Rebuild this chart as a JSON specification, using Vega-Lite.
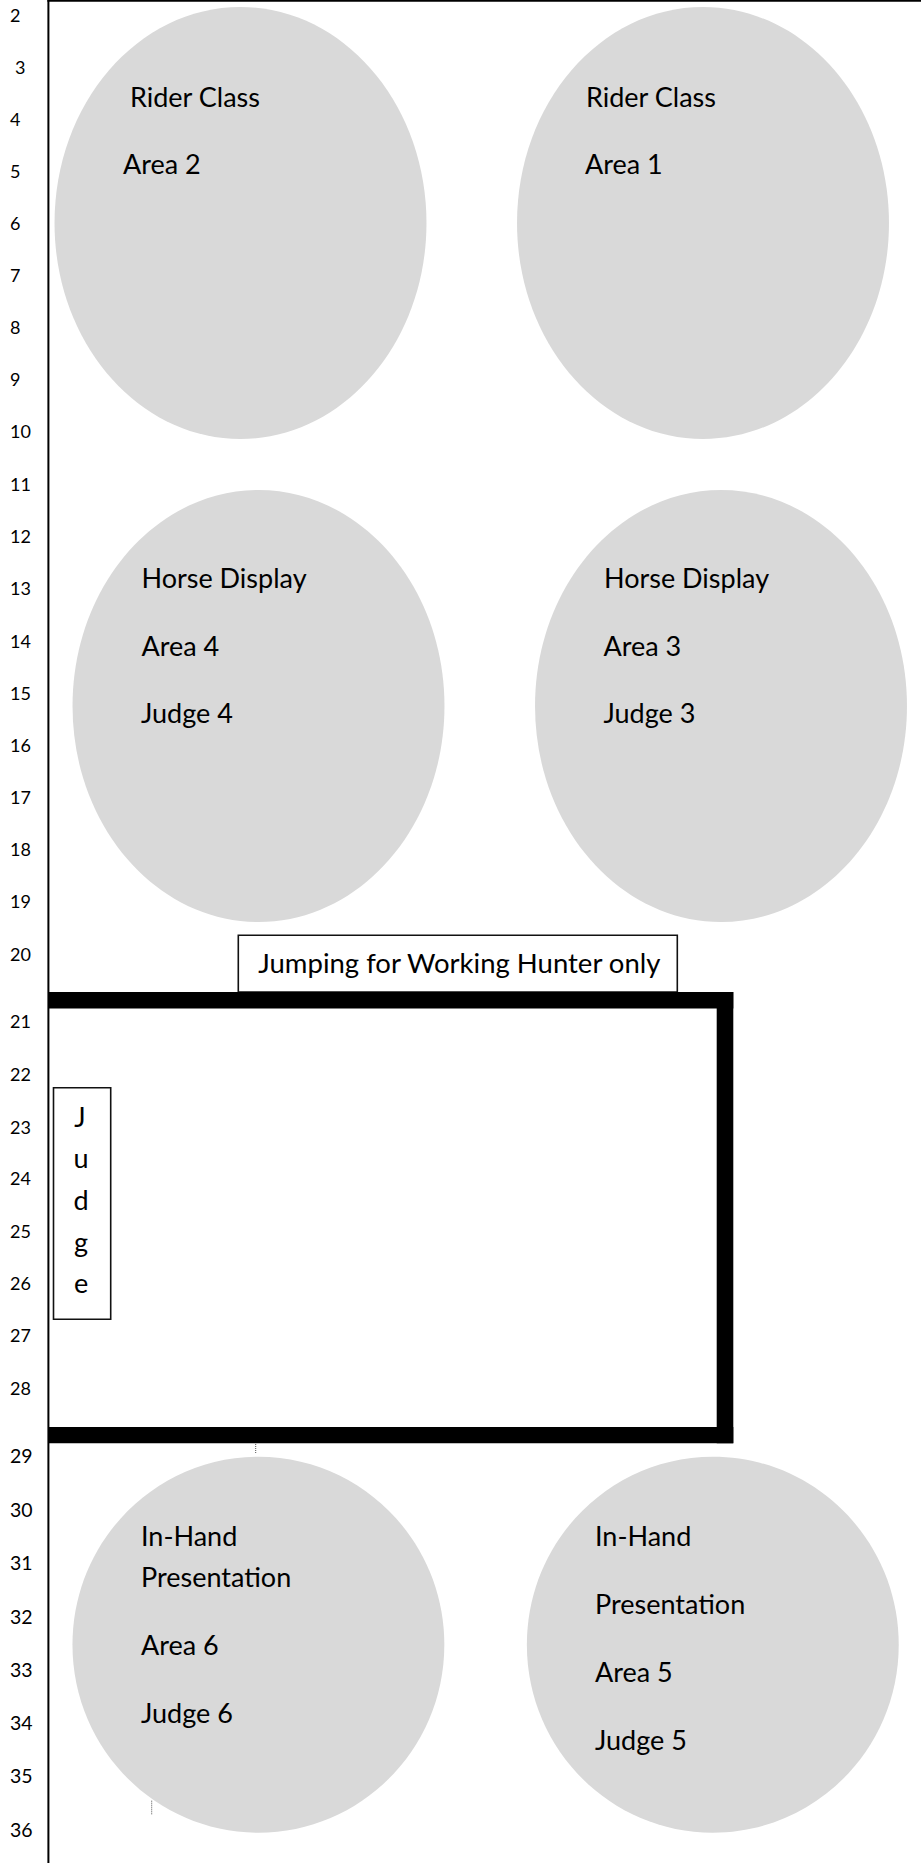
{
  "$schema": "https://vega.github.io/schema/vega-lite/v6.json",
  "width": 921,
  "height": 1863,
  "autosize": "none",
  "padding": 0,
  "background": "white",
  "config": {"view": {"stroke": null}},
  "datasets": {
    "ellipsesTall": [
      {"name": "Area 2", "x": 240.5, "y": 223},
      {"name": "Area 1", "x": 703, "y": 223},
      {"name": "Area 4", "x": 258.5, "y": 706},
      {"name": "Area 3", "x": 721, "y": 706}
    ],
    "ellipsesShort": [
      {"name": "Area 6", "x": 258.4, "y": 1644.7},
      {"name": "Area 5", "x": 712.8, "y": 1644.7}
    ],
    "frame": [
      {"part": "left border", "x": 47.4, "x2": 49.4, "y": 0, "y2": 1863},
      {"part": "top border", "x": 47.4, "x2": 921, "y": 0, "y2": 1.8}
    ],
    "boxes": [
      {"part": "jumping sign", "x": 238.3, "x2": 677.3, "y": 935.3, "y2": 992},
      {"part": "judge box", "x": 53.5, "x2": 110.7, "y": 1087.7, "y2": 1319.3}
    ],
    "arena": [
      {"part": "top", "x": 48, "x2": 733.3, "y": 992, "y2": 1008.5},
      {"part": "right", "x": 716.7, "x2": 733.3, "y": 992, "y2": 1443.3},
      {"part": "bottom", "x": 48, "x2": 733.3, "y": 1427, "y2": 1443.3}
    ],
    "dots": [
      {"x": 255.7, "y": 1444, "y2": 1454},
      {"x": 151.7, "y": 1800.7, "y2": 1815}
    ],
    "labels": [
      {"text": "Rider Class", "x": 130, "y": 107},
      {"text": "Area 2", "x": 123, "y": 174},
      {"text": "Rider Class", "x": 586, "y": 107},
      {"text": "Area 1", "x": 585, "y": 174},
      {"text": "Horse Display", "x": 141.5, "y": 588},
      {"text": "Area 4", "x": 141.5, "y": 656},
      {"text": "Judge 4", "x": 141, "y": 723},
      {"text": "Horse Display", "x": 604, "y": 588},
      {"text": "Area 3", "x": 603.5, "y": 656},
      {"text": "Judge 3", "x": 603.5, "y": 723},
      {"text": "In-Hand", "x": 141, "y": 1546},
      {"text": "Presentation", "x": 141, "y": 1587},
      {"text": "Area 6", "x": 141, "y": 1655},
      {"text": "Judge 6", "x": 141, "y": 1722.5},
      {"text": "In-Hand", "x": 595, "y": 1546},
      {"text": "Presentation", "x": 595, "y": 1614},
      {"text": "Area 5", "x": 595, "y": 1682},
      {"text": "Judge 5", "x": 595, "y": 1750}
    ],
    "signText": [
      {"text": "Jumping for Working Hunter only", "x": 258.3, "y": 973}
    ],
    "judgeLetters": [
      {"text": "J", "x": 80, "y": 1126.7},
      {"text": "u", "x": 81, "y": 1168.3},
      {"text": "d", "x": 81, "y": 1210},
      {"text": "g", "x": 81, "y": 1251.5},
      {"text": "e", "x": 81, "y": 1293}
    ],
    "rows": [
      {"row": "2", "x": 10, "y": 21.5},
      {"row": "3", "x": 15, "y": 74},
      {"row": "4", "x": 10, "y": 125.5},
      {"row": "5", "x": 10, "y": 178},
      {"row": "6", "x": 10, "y": 229.5},
      {"row": "7", "x": 10, "y": 282},
      {"row": "8", "x": 10, "y": 334},
      {"row": "9", "x": 10, "y": 386},
      {"row": "10", "x": 10, "y": 438.3},
      {"row": "11", "x": 10, "y": 491},
      {"row": "12", "x": 10, "y": 542.5},
      {"row": "13", "x": 10, "y": 594.5},
      {"row": "14", "x": 10, "y": 648},
      {"row": "15", "x": 10, "y": 700},
      {"row": "16", "x": 10, "y": 751.5},
      {"row": "17", "x": 10, "y": 803.5},
      {"row": "18", "x": 10, "y": 856},
      {"row": "19", "x": 10, "y": 908},
      {"row": "20", "x": 10, "y": 960.5},
      {"row": "21", "x": 10, "y": 1028.3},
      {"row": "22", "x": 10, "y": 1081},
      {"row": "23", "x": 10, "y": 1133.5},
      {"row": "24", "x": 10, "y": 1185},
      {"row": "25", "x": 10, "y": 1237.5},
      {"row": "26", "x": 10, "y": 1290},
      {"row": "27", "x": 10, "y": 1342},
      {"row": "28", "x": 10, "y": 1395}
    ],
    "rowsLower": [
      {"row": "29", "x": 10, "y": 1463.3},
      {"row": "30", "x": 10, "y": 1517},
      {"row": "31", "x": 10, "y": 1570},
      {"row": "32", "x": 10, "y": 1624},
      {"row": "33", "x": 10, "y": 1677},
      {"row": "34", "x": 10, "y": 1730},
      {"row": "35", "x": 10, "y": 1782.7},
      {"row": "36", "x": 10, "y": 1836.7}
    ]
  },
  "layer": [
    {
      "data": {"name": "ellipsesTall"},
      "mark": {"type": "point", "filled": true, "color": "#d9d9d9", "opacity": 1, "strokeWidth": 0,
               "shape": "M -0.861 0 A 0.861 1 0 1 0 0.861 0 A 0.861 1 0 1 0 -0.861 0 Z", "size": 186624},
      "encoding": {
        "x": {"field": "x", "type": "quantitative", "scale": {"domain": [0, 921], "nice": false, "zero": false}, "axis": null},
        "y": {"field": "y", "type": "quantitative", "scale": {"domain": [0, 1863], "nice": false, "zero": false, "reverse": true}, "axis": null}
      }
    },
    {
      "data": {"name": "ellipsesShort"},
      "mark": {"type": "point", "filled": true, "color": "#d9d9d9", "opacity": 1, "strokeWidth": 0,
               "shape": "M -0.989 0 A 0.989 1 0 1 0 0.989 0 A 0.989 1 0 1 0 -0.989 0 Z", "size": 141376},
      "encoding": {
        "x": {"field": "x", "type": "quantitative", "scale": {"domain": [0, 921], "nice": false, "zero": false}, "axis": null},
        "y": {"field": "y", "type": "quantitative", "scale": {"domain": [0, 1863], "nice": false, "zero": false, "reverse": true}, "axis": null}
      }
    },
    {
      "data": {"name": "frame"},
      "mark": {"type": "rect", "color": "black"},
      "encoding": {
        "x": {"field": "x", "type": "quantitative", "scale": {"domain": [0, 921], "nice": false, "zero": false}, "axis": null},
        "x2": {"field": "x2"},
        "y": {"field": "y", "type": "quantitative", "scale": {"domain": [0, 1863], "nice": false, "zero": false, "reverse": true}, "axis": null},
        "y2": {"field": "y2"}
      }
    },
    {
      "data": {"name": "boxes"},
      "mark": {"type": "rect", "fill": "white", "stroke": "#111111", "strokeWidth": 1.6},
      "encoding": {
        "x": {"field": "x", "type": "quantitative", "scale": {"domain": [0, 921], "nice": false, "zero": false}, "axis": null},
        "x2": {"field": "x2"},
        "y": {"field": "y", "type": "quantitative", "scale": {"domain": [0, 1863], "nice": false, "zero": false, "reverse": true}, "axis": null},
        "y2": {"field": "y2"}
      }
    },
    {
      "data": {"name": "arena"},
      "mark": {"type": "rect", "color": "black"},
      "encoding": {
        "x": {"field": "x", "type": "quantitative", "scale": {"domain": [0, 921], "nice": false, "zero": false}, "axis": null},
        "x2": {"field": "x2"},
        "y": {"field": "y", "type": "quantitative", "scale": {"domain": [0, 1863], "nice": false, "zero": false, "reverse": true}, "axis": null},
        "y2": {"field": "y2"}
      }
    },
    {
      "data": {"name": "dots"},
      "mark": {"type": "rule", "color": "#555555", "strokeWidth": 1, "strokeDash": [1, 1]},
      "encoding": {
        "x": {"field": "x", "type": "quantitative", "scale": {"domain": [0, 921], "nice": false, "zero": false}, "axis": null},
        "y": {"field": "y", "type": "quantitative", "scale": {"domain": [0, 1863], "nice": false, "zero": false, "reverse": true}, "axis": null},
        "y2": {"field": "y2"}
      }
    },
    {
      "data": {"name": "labels"},
      "mark": {"type": "text", "align": "left", "baseline": "alphabetic", "font": "Lato", "fontSize": 27, "color": "black"},
      "encoding": {
        "x": {"field": "x", "type": "quantitative", "scale": {"domain": [0, 921], "nice": false, "zero": false}, "axis": null},
        "y": {"field": "y", "type": "quantitative", "scale": {"domain": [0, 1863], "nice": false, "zero": false, "reverse": true}, "axis": null},
        "text": {"field": "text"}
      }
    },
    {
      "data": {"name": "signText"},
      "mark": {"type": "text", "align": "left", "baseline": "alphabetic", "font": "Lato", "fontSize": 27.5, "color": "black"},
      "encoding": {
        "x": {"field": "x", "type": "quantitative", "scale": {"domain": [0, 921], "nice": false, "zero": false}, "axis": null},
        "y": {"field": "y", "type": "quantitative", "scale": {"domain": [0, 1863], "nice": false, "zero": false, "reverse": true}, "axis": null},
        "text": {"field": "text"}
      }
    },
    {
      "data": {"name": "judgeLetters"},
      "mark": {"type": "text", "align": "center", "baseline": "alphabetic", "font": "Lato", "fontSize": 27, "color": "black"},
      "encoding": {
        "x": {"field": "x", "type": "quantitative", "scale": {"domain": [0, 921], "nice": false, "zero": false}, "axis": null},
        "y": {"field": "y", "type": "quantitative", "scale": {"domain": [0, 1863], "nice": false, "zero": false, "reverse": true}, "axis": null},
        "text": {"field": "text"}
      }
    },
    {
      "data": {"name": "rows"},
      "mark": {"type": "text", "align": "left", "baseline": "alphabetic", "font": "Lato", "fontSize": 18, "color": "black"},
      "encoding": {
        "x": {"field": "x", "type": "quantitative", "scale": {"domain": [0, 921], "nice": false, "zero": false}, "axis": null},
        "y": {"field": "y", "type": "quantitative", "scale": {"domain": [0, 1863], "nice": false, "zero": false, "reverse": true}, "axis": null},
        "text": {"field": "row"}
      }
    },
    {
      "data": {"name": "rowsLower"},
      "mark": {"type": "text", "align": "left", "baseline": "alphabetic", "font": "Lato", "fontSize": 19.5, "color": "black"},
      "encoding": {
        "x": {"field": "x", "type": "quantitative", "scale": {"domain": [0, 921], "nice": false, "zero": false}, "axis": null},
        "y": {"field": "y", "type": "quantitative", "scale": {"domain": [0, 1863], "nice": false, "zero": false, "reverse": true}, "axis": null},
        "text": {"field": "row"}
      }
    }
  ]
}
